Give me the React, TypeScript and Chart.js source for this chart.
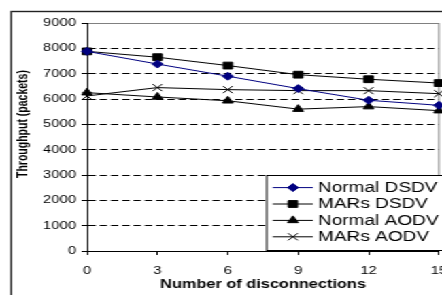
import React, { useEffect, useRef } from 'react';
import { Chart, registerables } from 'chart.js';
import { drawPoint } from 'chart.js/helpers';

Chart.register(...registerables);

// ---- data ----
const categories = ['0', '3', '6', '9', '12', '15'];
const normalDSDV = [7880, 7380, 6900, 6410, 5950, 5750];
const marsDSDV = [7880, 7650, 7320, 6960, 6780, 6630];
const normalAODV = [6250, 6080, 5930, 5600, 5700, 5540];
const marsAODV = [6120, 6450, 6370, 6330, 6330, 6210];
const seriesNames = ['Normal DSDV', 'MARs DSDV', 'Normal AODV', 'MARs AODV'];
const yMin = 0;
const yMax = 9000;
const yStep = 1000;
const xTitle = 'Number of disconnections';
const yTitle = 'Throughput (packets)';

// ---- layout (the picture is horizontally stretched) ----
const SX = 1.36;
const W = 325; // visible width (before stretch)
const CW = 340; // canvas width, right part clipped
const H = 295;
const PLOT_RIGHT = 322.8;
const FONT = '"Liberation Sans", Arial, Helvetica, sans-serif';

const outerBorder = {
  id: 'outerBorder',
  beforeDraw(chart: any) {
    const { ctx } = chart;
    ctx.save();
    ctx.strokeStyle = '#222';
    ctx.lineWidth = 1.4;
    ctx.strokeRect(8.2, 11.5, 600, 600);
    ctx.restore();
  },
};

const plotFrame = {
  id: 'plotFrame',
  beforeDatasetsDraw(chart: any) {
    const { ctx, chartArea } = chart;
    ctx.save();
    ctx.strokeStyle = '#808080';
    ctx.lineWidth = 1;
    ctx.beginPath();
    ctx.moveTo(chartArea.right, chartArea.top);
    ctx.lineTo(chartArea.right, chartArea.bottom);
    ctx.stroke();
    ctx.restore();
  },
};

const yTitlePlugin = {
  id: 'yTitlePlugin',
  afterDraw(chart: any) {
    const { ctx } = chart;
    ctx.save();
    ctx.translate(17, 124);
    ctx.rotate(-Math.PI / 2);
    ctx.font = `bold 10.5px ${FONT}`;
    ctx.fillStyle = '#000';
    ctx.textAlign = 'center';
    ctx.textBaseline = 'middle';
    ctx.fillText(yTitle, 0, 0);
    ctx.restore();
  },
};

const customLegend = {
  id: 'customLegend',
  afterDraw(chart: any) {
    const { ctx, chartArea } = chart;
    const left = chartArea.right - 127.2;
    const bottom = chartArea.bottom - 1;
    const top = bottom - 75;
    ctx.save();
    ctx.fillStyle = '#fff';
    ctx.fillRect(left, top, 200, bottom - top);
    ctx.strokeStyle = '#000';
    ctx.lineWidth = 1;
    ctx.strokeRect(left + 0.5, top + 0.5, 200, bottom - top);
    chart.data.datasets.forEach((ds: any, i: number) => {
      const y = top + 12.6 + i * 16.4;
      ctx.strokeStyle = ds.borderColor;
      ctx.lineWidth = 1;
      ctx.beginPath();
      ctx.moveTo(left + 5, y);
      ctx.lineTo(left + 34.5, y);
      ctx.stroke();
      ctx.fillStyle = ds.pointBackgroundColor;
      ctx.strokeStyle = ds.pointBorderColor;
      drawPoint(ctx, { pointStyle: ds.pointStyle, radius: ds.pointRadius, borderWidth: 1, rotation: 0 } as any, left + 19.8, y);
      ctx.fillStyle = '#000';
      ctx.font = `14px ${FONT}`;
      ctx.textAlign = 'left';
      ctx.textBaseline = 'middle';
      ctx.fillText(ds.label, left + 38.2, y + 0.5);
    });
    ctx.restore();
  },
};

function makeDataset(label: string, data: number[], color: string, style: string, radius: number) {
  return {
    label,
    data,
    borderColor: color,
    backgroundColor: color,
    borderWidth: 1,
    pointStyle: style,
    pointRadius: radius,
    pointBackgroundColor: color,
    pointBorderColor: color,
    pointBorderWidth: 1,
    tension: 0,
    fill: false,
  };
}

export default function App() {
  const ref = useRef<HTMLCanvasElement>(null);
  useEffect(() => {
    if (!ref.current) return;
    Chart.defaults.font.family = FONT;
    const chart = new Chart(ref.current, {
      type: 'line',
      data: {
        labels: categories,
        datasets: [
          makeDataset(seriesNames[0], normalDSDV, '#000080', 'rectRot', 4),
          makeDataset(seriesNames[1], marsDSDV, '#000000', 'rect', 4.8),
          makeDataset(seriesNames[2], normalAODV, '#000000', 'triangle', 4.5),
          makeDataset(seriesNames[3], marsAODV, '#000000', 'crossRot', 5),
        ],
      },
      options: {
        responsive: false,
        animation: false,
        devicePixelRatio: 1,
        layout: { padding: { left: 0, top: 23, right: CW - PLOT_RIGHT, bottom: 0 } },
        plugins: { legend: { display: false }, tooltip: { enabled: false } },
        scales: {
          x: {
            type: 'category',
            offset: false,
            grid: { drawOnChartArea: false, drawTicks: true, tickLength: 4, color: '#000', tickColor: '#000' },
            border: { display: true, color: '#000', width: 1 },
            ticks: { color: '#000', font: { size: 11 }, padding: 9.4, maxRotation: 0, autoSkip: false },
            title: {
              display: true,
              text: xTitle,
              color: '#000',
              font: { size: 12, weight: 'bold' },
              padding: { top: 0, bottom: 2.8 },
            },
            afterFit(scale: any) {
              scale.height = 44;
            },
          },
          y: {
            min: yMin,
            max: yMax,
            grid: {
              color: (c: any) => (c.tick && c.tick.value === yMax ? '#808080' : c.tick && c.tick.value === yMin ? 'rgba(0,0,0,0)' : '#000'),
              tickColor: '#000',
              tickLength: 4,
              lineWidth: 1,
            },
            border: {
              display: true,
              color: '#000',
              width: 1,
              dash: (c: any) => (c.tick && c.tick.value !== yMax ? [5.4, 2.9] : []),
            },
            ticks: {
              stepSize: yStep,
              color: '#000',
              font: { size: 11 },
              padding: 4,
              callback: (v: any) => String(v),
            },
            afterFit(scale: any) {
              scale.width = 64;
            },
          },
        },
      } as any,
      plugins: [outerBorder, plotFrame, customLegend, yTitlePlugin],
    });
    return () => chart.destroy();
  }, []);
  return (
    <div
      style={{
        position: 'fixed',
        left: 0,
        top: 0,
        width: W,
        height: H,
        overflow: 'hidden',
        transform: `scaleX(${SX})`,
        transformOrigin: '0 0',
        background: '#fff',
      }}
    >
      <canvas ref={ref} width={CW} height={H} style={{ display: 'block' }} />
    </div>
  );
}
